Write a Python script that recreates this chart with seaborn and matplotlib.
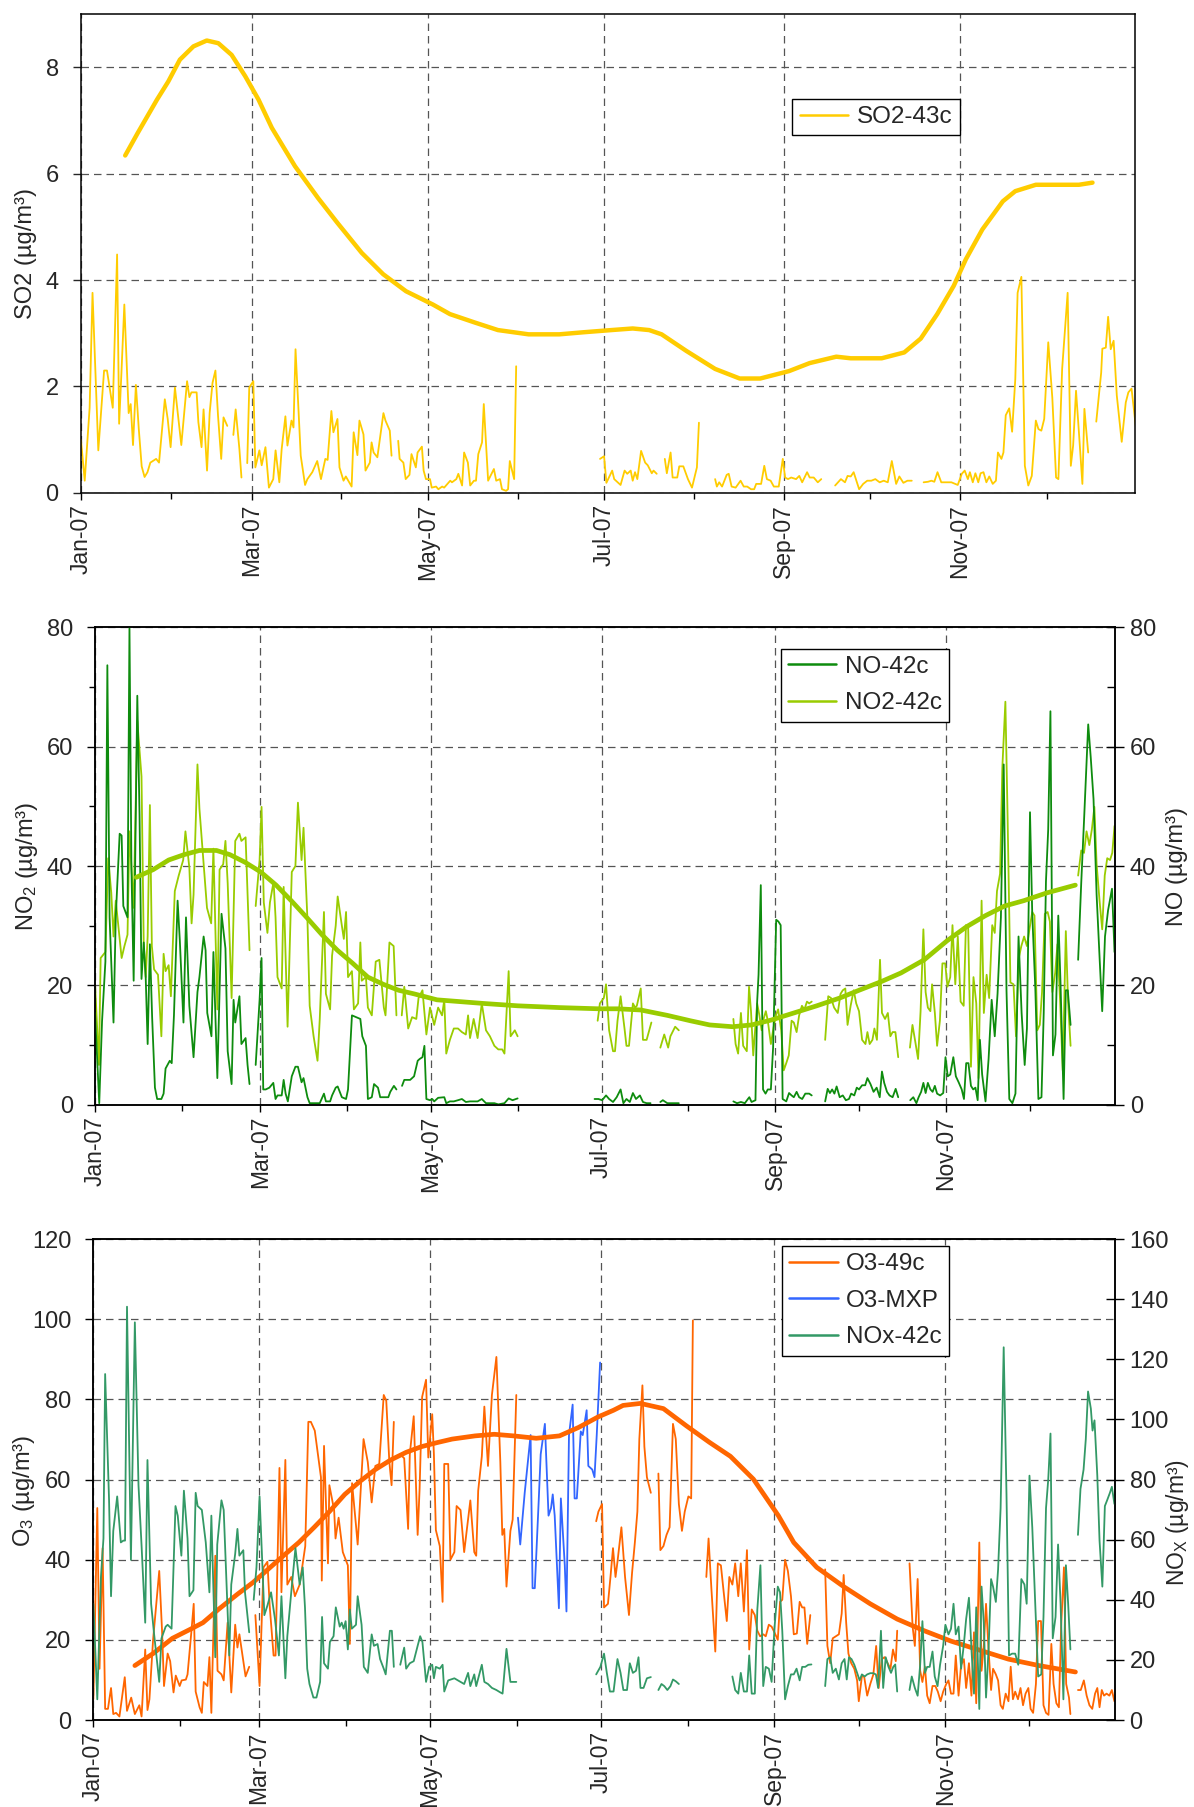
import pandas as pd
import matplotlib
matplotlib.use('Agg')
import matplotlib.pyplot as plt
import matplotlib.dates as mdates
from matplotlib.ticker import MultipleLocator
from matplotlib.lines import Line2D
import seaborn as sb

# values: (day of 2007, value), one sub-list per unbroken stretch
so2_daily = [
    [(0, 1.0), (1.3, 0.23), (3, 1.6), (4, 3.76), (6, 0.8), (8, 2.3), (9, 2.3), (11, 1.6), (12.5, 4.48), (13.2, 1.3),
     (14, 2.26), (15, 3.54), (16.5, 1.5), (17.2, 1.67), (18, 0.9), (19, 2.03), (20, 1.2), (21, 0.5), (22, 0.3), (23, 0.39),
     (24, 0.57), (26, 0.64), (27, 0.57), (29, 1.76), (30, 1.39), (31, 0.86), (32.5, 1.98), (34.7, 0.9), (36.7, 2.1), (37.5, 1.8),
     (38.2, 1.89), (40, 1.89), (40.6, 1.33), (41.7, 0.86), (42.4, 1.57), (43.6, 0.42), (44.5, 1.5), (45.5, 2.07), (46.5, 2.3),
     (47.4, 1.45), (48.5, 0.64), (49.3, 1.42), (50.6, 1.26)],
    [(52.7, 1.09), (53.5, 1.57), (54.8, 0.82), (55.5, 0.29)],
    [(57.5, 0.56), (58.2, 1.98), (59.6, 2.1), (60.3, 0.48), (61.7, 0.8), (62.5, 0.52), (63.8, 0.86), (65, 0.1), (66.5, 0.26),
     (67.3, 0.8), (68.6, 0.2), (69.4, 0.82), (70.7, 1.44), (71.4, 0.89), (72.8, 1.36), (73.5, 1.23), (74.2, 2.7), (76, 0.7),
     (77.5, 0.15), (78.3, 0.26), (80, 0.39), (81.7, 0.6), (83, 0.26), (84.5, 0.64), (85.3, 0.62), (86.6, 1.54), (87.3, 1.14),
     (88.7, 1.39), (89.4, 0.48), (90.8, 0.23), (91.6, 0.31), (93.6, 0.12), (94.3, 1.14), (95.6, 0.71), (96.3, 1.36), (97.7, 1.1),
     (98.4, 0.42), (99.9, 0.57), (100.5, 0.95), (101.2, 0.76), (102.5, 0.67), (104.6, 1.5), (105.3, 1.36), (106.8, 1.17),
     (107.4, 0.7)],
    [(109.7, 0.98), (110.2, 0.64), (111.5, 0.57), (112.3, 0.26), (113.6, 0.34), (114.3, 0.73), (115.8, 0.48), (116.4, 0.76),
     (117.9, 0.87), (118.5, 0.42), (119.3, 0.26), (120.7, 0.26), (121.3, 0.1), (122.8, 0.12), (123.6, 0.07), (124.9, 0.12),
     (125.6, 0.1), (127.7, 0.23), (128.3, 0.2), (129.8, 0.26), (130.5, 0.36), (131.8, 0.14), (132.5, 0.76), (133.8, 0.57),
     (134.6, 0.14), (135.9, 0.23), (136.6, 0.23), (137.4, 0.73), (138.7, 0.95), (139.3, 1.67), (140.8, 0.23), (142.8, 0.45),
     (143.6, 0.23), (144.9, 0.26), (145.6, 0.07), (147, 0.04), (147.7, 0.07), (148.3, 0.6), (149.8, 0.26), (150.5, 2.38)],
    [(179.5, 0.64), (180.9, 0.69), (181.7, 0.19), (183.7, 0.42), (184.4, 0.26), (186.6, 0.15), (188, 0.42), (188.9, 0.36),
     (190.1, 0.42), (190.8, 0.23), (191.6, 0.39), (192.4, 0.26), (193.7, 0.79), (195.1, 0.57), (196, 0.52), (197.4, 0.37),
     (198, 0.42), (199.1, 0.36)],
    [(201.9, 0.64), (202.6, 0.37), (203.9, 0.76), (204.6, 0.29), (206.2, 0.29), (206.9, 0.5), (208.3, 0.5), (209.9, 0.26),
     (211.3, 0.1), (213, 0.48), (213.7, 1.32)],
    [(219.3, 0.26), (219.9, 0.12), (220.7, 0.2), (221.7, 0.12), (223.3, 0.34), (224, 0.36), (225, 0.12), (226.4, 0.1),
     (228.1, 0.23), (229.2, 0.12), (230.4, 0.12), (231.7, 0.07), (232.8, 0.07), (233.5, 0.17), (235.2, 0.17), (236.3, 0.51),
     (237.2, 0.26), (238.5, 0.23), (239.6, 0.12), (241.3, 0.12), (242.7, 0.64), (243.5, 0.29), (244.5, 0.26), (245.6, 0.29),
     (247.3, 0.26), (248.4, 0.32), (249.4, 0.2), (251.1, 0.39), (252, 0.29), (253.4, 0.29), (254.8, 0.2), (256, 0.26)],
    [(260.8, 0.14), (262.8, 0.26), (264.2, 0.2), (265.1, 0.32), (266.2, 0.31), (267.2, 0.39), (269.1, 0.07), (270.5, 0.17),
     (271.9, 0.23), (273.3, 0.23), (274.7, 0.26), (276.2, 0.2), (277.6, 0.23), (279, 0.2), (280.4, 0.6), (281.9, 0.17),
     (283, 0.31), (284.4, 0.19), (285.8, 0.23), (287.3, 0.23)],
    [(291.4, 0.2), (292.9, 0.21), (294.1, 0.23), (295.1, 0.21), (296.2, 0.39), (297.5, 0.2), (298.9, 0.2), (301, 0.2),
     (303.2, 0.15), (304.6, 0.36), (305.6, 0.42), (306.7, 0.26), (307.4, 0.39), (308.4, 0.2), (309.3, 0.37), (310.3, 0.2),
     (311.1, 0.37), (312.1, 0.39), (313.1, 0.2), (314.1, 0.31), (315.3, 0.17), (316.4, 0.23), (317.1, 0.76), (318.3, 0.64),
     (319, 0.76), (319.8, 1.46), (321, 1.59), (322, 1.15), (323.1, 2.14), (323.9, 3.76), (325.2, 4.06), (326.4, 0.51),
     (327.6, 0.14), (328.8, 0.32), (330.2, 1.36), (331.1, 1.2), (332.1, 1.17), (333.1, 1.39), (334.5, 2.83), (335.9, 1.79),
     (337.2, 0.29), (338, 0.26), (339.3, 2.33), (341.2, 3.76), (342.3, 0.51), (343.1, 0.89), (344.1, 1.92), (345.1, 1.14),
     (346.3, 0.17), (347, 1.58), (348.3, 0.76)],
    [(351.1, 1.34), (352.8, 2.26), (353.2, 2.71), (354.4, 2.73), (355.2, 3.31), (356.1, 2.7), (357.1, 2.86), (358.2, 1.83),
     (359.9, 0.96), (361.3, 1.7), (362.2, 1.89), (363.3, 1.96), (364.9, 1.19)],
]
so2_smooth = [[(15.3, 6.34), (19.6, 6.76), (26.3, 7.39), (30.2, 7.73), (34.2, 8.14), (38.9, 8.39), (43.5, 8.5), (47.5, 8.45),
               (52.1, 8.23), (56.8, 7.83), (61.4, 7.39), (66, 6.86), (74, 6.14), (82, 5.54), (88.6, 5.08), (97.1, 4.51),
               (104.5, 4.11), (112.4, 3.79), (121.7, 3.54), (127.6, 3.36), (136.3, 3.2), (144.2, 3.06), (154.8, 2.98),
               (165.4, 2.98), (174, 3.02), (183.4, 3.06), (190.8, 3.09), (196.5, 3.06), (200.8, 2.98), (209.3, 2.67),
               (219.3, 2.33), (227.8, 2.15), (234.9, 2.15), (244.9, 2.29), (252, 2.44), (261.2, 2.56), (266.2, 2.53),
               (276.9, 2.53), (284.7, 2.64), (290.4, 2.9), (296.1, 3.36), (301.8, 3.89), (306, 4.39), (311.7, 4.95),
               (318.8, 5.48), (323.1, 5.67), (330.2, 5.79), (345.1, 5.79), (349.8, 5.83)]]

no2_daily = [
    [(0, 20.2), (1.4, 6.7), (2, 24.6), (3.7, 25.6), (4.7, 41.3), (5.8, 35.5), (6.6, 28.2), (7.4, 34.2), (9.5, 24.6),
     (10.5, 26.6), (11.6, 28.5), (12.3, 45.8), (13.8, 33), (15.1, 64.3), (16.6, 55), (17.4, 26.9), (18.1, 21.4), (18.8, 28.2),
     (19.6, 50.2), (20.3, 26.6), (21.1, 22.7), (22.5, 21.8), (23.7, 11.5), (24.5, 25.3), (25.2, 22.4), (26.3, 23.4),
     (27.1, 18.2), (28.5, 35.8), (29.9, 38.4), (31.5, 41), (32.3, 45.8), (33.7, 39.7), (34.5, 30.4), (35.2, 35.2), (36.6, 57),
     (37.3, 49.6), (38.6, 41.6), (40, 33), (41.5, 30.4), (42.3, 42.9), (43.7, 16), (44.5, 39.4), (45.8, 40.3), (46.6, 44.2),
     (47.4, 37.1), (48.8, 17.9), (50.1, 44.2), (51.6, 45.4), (52.3, 44.2), (53.8, 44.8), (55.2, 25.9)],
    [(57.4, 33.3), (58.8, 41), (59.5, 49.9), (60.3, 33.9), (61.6, 28.8), (62.5, 33.9), (63.8, 37.4), (64.5, 31.4),
     (65.2, 21.4), (66.7, 19.5), (67.4, 36.5), (68.8, 13.1), (70.3, 39), (71.6, 40), (72.5, 50.6), (73.8, 41), (74.5, 46.4),
     (75.9, 31), (76.7, 16.6), (78.1, 11.5), (79.5, 7.4), (80.3, 14.4), (81.8, 32.3), (82.5, 18.6), (84, 16), (84.7, 25),
     (86, 30), (86.7, 34.9), (88.2, 30), (88.9, 27.8), (89.7, 32.3), (90.4, 21.4), (91.8, 22.4), (92.5, 16), (94, 17),
     (94.8, 27.2), (95.3, 20.8), (96.8, 21.4), (97.5, 16.3), (98.9, 15), (100.3, 24), (101.6, 24.3), (103.2, 16.3),
     (103.8, 15), (105.2, 27.2), (106.7, 26.6), (107.7, 15)],
    [(109.6, 15), (110.5, 19.8), (111.9, 12.8), (113.3, 14.7), (114.8, 14.4), (115.6, 17.9), (117, 19.2), (118.4, 11.8),
     (119.7, 16.3), (121.2, 13.4), (122.6, 16.3), (124, 15), (124.8, 17.6), (125.5, 8.6), (126.8, 10.9), (128.2, 12.8),
     (129.7, 12.8), (131.1, 12.2), (132.5, 11.8), (133.3, 15), (134, 11.2), (135.3, 14.4), (136.7, 11.2), (138.2, 17),
     (139.7, 12.5), (141.1, 11.5), (142.7, 9.9), (144.1, 9.3), (145.5, 9.3), (146.3, 8.6), (147.8, 22.4), (148.5, 11.5),
     (150, 12.5), (151, 11.5)],
    [(179.6, 14.1), (180.4, 17), (181.8, 17.9), (182.6, 20.2), (183.7, 12.5), (185.1, 9), (185.8, 9), (186.7, 14.1),
     (187.8, 18.2), (189.2, 12.8), (189.9, 9.9), (190.8, 9.9), (192.2, 17), (193, 16.3), (193.6, 16.6), (195, 19.5),
     (195.8, 10.9), (197.1, 10.9), (198.8, 13.8)],
    [(202, 9.6), (203.4, 11.8), (204.8, 9.6), (205.6, 11.5), (207.3, 13.1), (208.6, 12.5)],
    [(228.1, 14.4), (228.9, 10.2), (229.8, 8.6), (230.8, 15.4), (231.6, 9.9), (232.9, 9), (233.7, 19.8), (234.4, 15.7),
     (235.2, 8.3), (236, 13.4), (236.6, 17), (237.4, 15), (238.2, 12.5), (238.9, 14.4), (239.7, 15.7), (240.4, 14.1),
     (241.5, 10.2), (242.4, 12.8), (243.3, 15), (244.1, 16), (245.2, 12.5), (246.1, 5.8), (247, 7), (247.9, 8.3),
     (248.9, 14.1), (249.7, 13.8), (250.7, 12.2), (251.6, 15), (252.6, 16.6), (253.5, 16), (254.4, 17.3), (255.2, 17),
     (256.1, 17.3)],
    [(260.9, 10.9), (262, 18.2), (263, 17.9), (264.1, 16.3), (265.4, 15.4), (266.4, 18.6), (267.2, 19.2), (268.1, 19.5),
     (268.9, 13.4), (270, 16.6), (271.1, 19.2), (272, 17), (273, 15.7), (274.1, 10.9), (275.3, 10.2), (276, 12.2),
     (276.8, 10.2), (277.8, 10.9), (278.5, 12.8), (279.4, 10.9), (280.5, 24.3), (281.2, 15.4), (282.3, 14.4), (283.3, 15.4),
     (284.2, 11.5), (285, 12.2), (286, 12.2), (287, 8)],
    [(291.2, 9.6), (292.1, 13.4), (293.1, 10.6), (294.1, 7.7), (295, 15.7), (296, 29.4), (296.8, 18.9), (297.6, 16.3),
     (298.5, 15.7), (299.1, 20.2), (300.1, 15.4), (300.9, 9.9), (301.9, 14.1), (302.8, 23.7), (303.8, 23.7), (304.6, 19.8),
     (305.6, 21.4), (306.4, 30.1), (307.4, 20.2), (308.3, 28.2), (309.3, 17.3), (310.4, 16.6), (311.2, 30.1), (312, 29.8),
     (313, 6.4), (313.9, 21.4), (314.9, 17), (315.7, 4.5), (316.8, 34.2), (317.6, 15.4), (318.6, 21.8), (319.5, 17.9),
     (320.6, 30.1), (321.5, 28.8), (322.3, 35.8), (323.4, 38.7), (324.2, 56.3), (325.3, 67.5), (326.1, 48), (327.1, 20.5),
     (328.2, 20.2), (329.1, 11.5), (330.1, 24.6), (331, 26.6), (332, 28.2), (333, 26.6), (333.9, 29.4), (334.9, 32.3),
     (335.7, 31.7), (336.7, 12.5), (337.6, 13.4), (338.4, 18.9), (339.4, 32), (340.4, 32.3), (341.2, 30.7), (342.1, 18.9),
     (343.1, 22.1), (343.9, 26.9), (344.9, 17), (345.8, 5.8), (346.9, 29.1), (347.7, 17.3), (348.6, 9.9)],
    [(351.3, 38.4), (352.4, 42.6), (353.4, 42.2), (354.3, 45.8), (355.3, 43.5), (356.2, 46.1), (357.1, 49.9), (357.9, 40.3),
     (359, 33.9), (359.9, 29.4), (360.8, 38.4), (361.7, 41.3), (362.7, 41), (363.5, 42.2), (364.3, 46.7)],
]
no_daily = [
    [(0, 15.4), (1.5, 0.3), (2.5, 14), (3.7, 24), (4.4, 73.6), (5.2, 31.4), (6.6, 13.8), (7.4, 31.4), (8.8, 45.4),
     (9.5, 45.1), (10.1, 33.3), (11.6, 31.4), (12.3, 80), (13, 39.7), (13.8, 20.8), (15.1, 68.5), (15.9, 48.6), (16.6, 21.1),
     (17.4, 27.2), (18.1, 21.4), (18.8, 10.2), (19.6, 26.9), (20.4, 14.7), (21.4, 2.9), (22.2, 1), (23.7, 1), (24.5, 1.9),
     (25.2, 6.1), (26.7, 7.4), (27.4, 7), (28.2, 15), (29.5, 34.2), (30.3, 27.5), (31.6, 13.8), (32.5, 31.4), (33.7, 16.6),
     (35.2, 8), (36.6, 18.9), (37.3, 21.4), (38.8, 28.2), (39.5, 25.9), (40.1, 15.4), (41.6, 11.5), (42.3, 25.6), (43.7, 4.5),
     (45.2, 32), (46.6, 26.2), (47.4, 9), (48.8, 3.5), (49.5, 17.6), (50.1, 13.8), (51.6, 18.2), (52.3, 10.2), (53.8, 11.2),
     (54.5, 6.7), (55.2, 3.5)],
    [(57.4, 6.7), (58.8, 17.6), (59.5, 24.6), (60.1, 2.6), (61, 2.6), (62.3, 2.9), (63.7, 3.7), (64.5, 1), (65.2, 1.6),
     (66.7, 1.6), (67.4, 4.2), (68.1, 1.9), (68.9, 0.6), (70.3, 4.8), (71.6, 6.4), (72.5, 6.4), (73.8, 3.8), (74.5, 4.5),
     (75.9, 1.3), (76.7, 0.3), (78.1, 0.3), (80.3, 0.3), (81.8, 1.9), (82.5, 0.6), (84, 0.6), (84.7, 1.6), (86, 2.9),
     (86.7, 3.1), (88.2, 1.3), (89.7, 1), (90.4, 2.6), (91.8, 15), (93.3, 14.7), (94.8, 14.4), (95.5, 11.5), (96.8, 9.9),
     (97.5, 1), (98.9, 1.3), (99.7, 3.5), (101.1, 2.9), (101.9, 1.3), (103.3, 1.3), (104.8, 1.3), (105.5, 2.2), (106.8, 3.2),
     (107.7, 2.6)],
    [(109.7, 3.2), (110.5, 4.2), (112.6, 4.2), (114, 4.8), (115.3, 7.4), (116, 7.7), (117, 8), (117.7, 9.9), (118.4, 1),
     (119.7, 0.8), (120.5, 1), (121.2, 0.6), (122.6, 1.2), (124.8, 1.3), (125.5, 0.3), (126.8, 0.6), (128.2, 0.6),
     (129.7, 0.8), (131.1, 1), (132.5, 0.5), (134, 0.6), (135.3, 0.6), (136.7, 0.6), (138.2, 1), (139.7, 0.3), (141.1, 0.3),
     (142.7, 0.3), (144.1, 0.1), (146.3, 0.3), (147.8, 1.1), (149.2, 0.8), (151, 1.1)],
    [(178.5, 1), (179.9, 1), (181.2, 0.8), (182.6, 1.6), (183.7, 1), (185.1, 0.5), (186.4, 1.3), (187.8, 2.6), (188.8, 0.3),
     (189.9, 1), (191.1, 0.5), (192.2, 2), (193.3, 1), (194.7, 1.6), (195.8, 0.5), (197.1, 0.3), (198.5, 0.3)],
    [(202, 0.5), (202.9, 0.8), (204.5, 0.3), (208.6, 0.3)],
    [(228.1, 0.6), (229.4, 0.3), (230.8, 0.5), (232.2, 0.3), (233.3, 1), (233.8, 1.3), (234.6, 0.5), (236, 0.8),
     (236.6, 17.3), (237.1, 21.8), (237.9, 36.8), (238.7, 2.6), (239.6, 1.9), (240.4, 2.6), (241.5, 2.6), (242.3, 9.6),
     (243.4, 31), (244.2, 30.7), (245, 30.1), (245.7, 1), (247, 0.6), (248, 2), (248.9, 1.6), (249.7, 1.3), (250.7, 2.2),
     (251.6, 1.3), (252.7, 1), (253.8, 1.9), (255.2, 1.9), (256.1, 1.6)],
    [(260.9, 0.6), (261.8, 2.7), (262.6, 2), (263.4, 2.6), (264.2, 1.9), (265, 3.1), (266.1, 1.3), (267.2, 1.6),
     (268.3, 0.8), (269.4, 1), (270.2, 1.9), (271.3, 1.6), (272.2, 2.9), (273, 2.6), (274.1, 3.3), (275.2, 3.3), (276, 4.5),
     (277.1, 3.5), (278.2, 2.2), (279.3, 2.9), (280.4, 1.3), (281.2, 5.6), (282, 3.7), (283, 2.2), (283.9, 1.6), (285, 1.3),
     (286.1, 2.7), (287, 1.3)],
    [(291.3, 0.8), (292.4, 1.3), (293.5, 0.3), (294.3, 1.3), (295.2, 2.2), (296, 3.7), (296.8, 2), (297.6, 3.7),
     (298.5, 2.6), (299.3, 2.2), (300.1, 3.2), (300.9, 1.9), (302, 1.6), (303.1, 2), (303.9, 8), (304.7, 4.8), (305.6, 5.1),
     (306.7, 8), (307.6, 4.8), (308.6, 3.8), (309.7, 2.6), (310.5, 1), (311.3, 7), (312.1, 7), (313, 3.2), (313.8, 2.6),
     (314.6, 2.9), (315.4, 0.8), (316.2, 10.9), (317, 5.1), (318.2, 0.6), (319.3, 7.7), (320.4, 17.6), (321.5, 11.5),
     (322.5, 18.6), (323.7, 31.4), (324.7, 57), (325.7, 19.2), (326.7, 1), (327.8, 0.3), (328.9, 1.9), (330, 28.2),
     (331.1, 15.4), (332.2, 6.7), (333, 12.8), (334.1, 49), (334.9, 32), (336, 19.5), (337.1, 1), (338.2, 1.3), (339, 15.4),
     (339.8, 37.4), (340.6, 46.1), (341.4, 65.9), (342.3, 8.3), (343.2, 11.8), (344.2, 31.7), (345, 20.5), (346.1, 1),
     (346.9, 19.2), (347.6, 19.2), (348.6, 13.4)],
    [(351.3, 24.3), (352.4, 37.1), (353.5, 48.6), (354.9, 63.7), (355.8, 58.2), (356.8, 51.2), (357.9, 35.2), (359, 24.3),
     (359.9, 15.7), (360.9, 28.2), (362, 32.6), (363.4, 36.2), (364.3, 25.6)],
]
no2_smooth = [[(14.7, 38.1), (20.8, 39.4), (26.3, 41), (31.8, 41.9), (37.3, 42.6), (43.4, 42.6), (48.2, 41.9), (53.7, 40.6),
               (59.2, 39), (64.7, 36.8), (70.1, 34.2), (75.6, 31.4), (81.1, 28.5), (86.6, 25.9), (92.1, 23.7), (97.5, 21.4),
               (103, 20.2), (108.5, 19.2), (114, 18.6), (122.2, 17.6), (130.4, 17.3), (138.6, 17), (151, 16.6), (166, 16.3),
               (180, 16.1), (186.7, 16.1), (195, 15.9), (204.5, 15), (212.7, 14.1), (219.6, 13.4), (227.8, 13.1),
               (234.6, 13.4), (241.5, 14.2), (249.7, 15.4), (257.9, 16.6), (266.1, 17.9), (273, 19.2), (281.2, 20.7),
               (288, 22.1), (296.3, 24.3), (304.5, 27.5), (311.3, 29.8), (318.2, 31.7), (325, 33.3), (331.9, 34.2),
               (340.1, 35.5), (345.6, 36.2), (350.3, 36.8)]]

o3_daily = [
    [(0, 5.2), (1.4, 52.9), (2.2, 12.8), (3.3, 42.9), (4.2, 2.8), (5.2, 2.8), (6.3, 8), (7.1, 1.5), (8.1, 1.8), (9.3, 0.9),
     (11.2, 10.7), (12, 2.3), (13.5, 5.6), (14.8, 1.5), (16.4, 3.7), (17.2, 0.9), (18.5, 17.6), (19.3, 2.5), (20, 5.2),
     (21.3, 20), (23.5, 37.2), (24.5, 22.3), (25.2, 8.5), (26.5, 16.6), (27.4, 14.7), (28.6, 6.9), (29.4, 11.1), (30.8, 8.5),
     (31.5, 9.9), (33, 10.1), (33.6, 11.4), (35, 22.3), (35.8, 29), (36.5, 7.1), (37.9, 3.2), (38.7, 1.8), (39.4, 9.5),
     (40.7, 8.5), (41.4, 15.7), (42.1, 1.8), (43.5, 41), (44.3, 12.3), (45.7, 11.4), (46.5, 9.9), (47.9, 24.3), (49.2, 6.9),
     (50.6, 23.8), (51.4, 18.1), (52.1, 21.4), (53.4, 15.2), (54.3, 10.9), (55.6, 13.3)],
    [(57.8, 26.2), (59.3, 8.5), (60.7, 38.1), (62.1, 39.5), (62.9, 28.6), (64.3, 16.1), (65, 16.1), (66.4, 62.9),
     (67.1, 31.9), (68.5, 64.9), (69.2, 33.8), (70.6, 35.7), (71.9, 30.9), (73.6, 33.8), (75.6, 43.4), (76.7, 74.4),
     (77.6, 74.4), (79, 72.2), (81.2, 60.6), (81.5, 34.8), (82.3, 68.4), (83.7, 39.1), (84.2, 58.6), (85.9, 52.4),
     (86.4, 45.3), (87.5, 50.5), (89, 41.9), (90.8, 38.6), (91.5, 19), (92.3, 59.1), (93.7, 48.6), (94.3, 43.8), (96.4, 70.1),
     (97.9, 64.4), (99.3, 54.3), (100.6, 63.4), (102, 63.9), (103.6, 81.1), (104.5, 79.7), (105.6, 64.4), (106.4, 58.6),
     (107.2, 74.4)],
    [(109.5, 66.3), (110.9, 65.3), (112.3, 47.7), (112.9, 66.3), (114.3, 75.8), (115.7, 46.2), (116.4, 57.7), (117.3, 80.6),
     (118.7, 84.9), (119.5, 65.5), (120.9, 76.3), (121.5, 66.3), (122.2, 47.4), (123.6, 43.4), (124.6, 29.5), (125.2, 63.9),
     (126.6, 63.9), (127.4, 40), (128.8, 41.9), (129.6, 53.4), (131, 52.4), (132.3, 41.9), (133.2, 47.2), (134.5, 54.8),
     (135.9, 41.9), (136.6, 41), (137.3, 57.2), (138.6, 65.8), (139.5, 78.2), (140.8, 63.4), (142.2, 81.1), (143.8, 90.6),
     (145.2, 64.4), (145.9, 46.2), (146.6, 47.7), (147.4, 33.3), (148.8, 47.2), (149.6, 50), (150.9, 81.1)],
    [(179.4, 49.6), (180.2, 52), (181.5, 53.9), (182.2, 28.1), (183.6, 29), (184.5, 35.7), (185.4, 42.9), (186.3, 35.7),
     (187, 39.5), (188.4, 48.1), (189.7, 35.7), (191.1, 26.2), (192.2, 36.7), (193.2, 44.3), (194.1, 52), (194.8, 70.1),
     (195.9, 83.5), (196.6, 68.2), (197.5, 60.6), (198.9, 56.7)],
    [(201.6, 61.5), (202.3, 42.4), (203.4, 43.4), (204.5, 46.2), (205.6, 48.1), (206.8, 73.9), (207.8, 70.1), (208.9, 53.9),
     (210, 47.2), (211, 52), (212.3, 55.8), (213.3, 55.3), (213.9, 99.7)],
    [(218.7, 35.7), (219.5, 45.3), (220.5, 32.9), (221.9, 17.1), (222.8, 39.1), (223.9, 38.6), (224.9, 31.9), (226, 24.7),
     (226.9, 35.7), (228, 33.8), (229, 39.1), (230.1, 30.9), (231, 39.1), (232.1, 27.1), (233.2, 42.4), (234, 17.6),
     (234.9, 27.6), (236, 26.2), (236.9, 22.3), (237.9, 20.9), (239, 21.4), (239.9, 20.9), (241, 23.8), (242, 23.3),
     (243, 21.9), (244.2, 20), (245, 29.5), (245.8, 30), (246.8, 40), (247.8, 37.2), (248.9, 30.9), (249.9, 21.4),
     (251, 21.6), (252, 29.5), (252.9, 28.1), (253.7, 28.1), (254.7, 19), (255.8, 26.2)],
    [(261.1, 37.6), (261.9, 18.5), (262.9, 14.2), (263.8, 20.4), (264.9, 20.9), (266, 21.4), (267, 26.6), (267.7, 36.2),
     (268.6, 24.3), (269.4, 16.6), (270.4, 14.2), (271.5, 12.8), (272.5, 9.9), (273.1, 4.7), (274.2, 10.9), (275, 10.9),
     (276.1, 6.1), (277.2, 9), (278.3, 11.4), (279.3, 18.5), (280.2, 8), (281.3, 15.2), (282.3, 15.7), (283.4, 14.2),
     (284.4, 12.8), (285.3, 17.6), (286.3, 14.7), (286.8, 22.3)],
    [(291.2, 39.1), (292.3, 23.3), (293.1, 18.5), (294.1, 35.2), (295, 12.3), (295.8, 9.5), (296.7, 13.3), (297.5, 6.1),
     (298.4, 4.2), (299.4, 8.5), (300.4, 8.5), (301.3, 7.1), (302.3, 4.7), (303.2, 7.1), (304.3, 9), (305.1, 9.9), (306, 6.6),
     (306.9, 6.6), (307.7, 16.1), (308.7, 6.1), (309.6, 13.8), (310.6, 15.2), (311.4, 8), (312.4, 14.2), (313.3, 6.1),
     (314.2, 21.9), (315, 4.2), (316.1, 44.3), (316.9, 12.3), (317.7, 18.5), (318.5, 29), (319.4, 17.6), (320.3, 7.5),
     (321, 12.8), (322, 11.4), (322.8, 9.9), (323.7, 3.7), (324.5, 2.8), (325.5, 6.6), (326.5, 4.7), (327.3, 13.3),
     (328.1, 5.2), (328.9, 7.1), (329.9, 5.2), (330.8, 8), (331.7, 3.7), (332.6, 6.6), (333.6, 8), (334.4, 2.8), (335.3, 1.8),
     (336.3, 9), (337.1, 24.7), (338.1, 24.7), (339, 3.7), (339.9, 1.8), (340.8, 1.3), (341.8, 19), (342.6, 9), (343.6, 4.2),
     (344.5, 3.2), (345.3, 23.3), (346.3, 38.1), (347.1, 9), (348.1, 5.6), (348.6, 1.5)],
    [(351.3, 7.5), (352.3, 7.5), (353.4, 9.9), (354.4, 6.1), (355.4, 3.7), (356.4, 2.8), (357.4, 6.6), (358.2, 8), (359, 3.2),
     (359.8, 7.5), (360.6, 6.1), (361.5, 6.6), (362.5, 6.1), (363.4, 7.5), (364.3, 4.7)],
]
o3_mxp = [[(151.5, 50.5), (152.3, 43.8), (153.9, 56.7), (154.6, 61.5), (156, 71.1), (156.7, 32.9), (157.5, 32.9),
           (158.9, 54.8), (159.6, 66.3), (161.1, 73.9), (162.4, 51), (163.3, 52.9), (163.9, 56.3), (164.6, 51), (166.1, 27.9),
           (166.8, 55.3), (168.2, 38.6), (168.8, 27.1), (169.7, 71.1), (171, 78.7), (171.7, 55.3), (172.5, 55.3), (173.9, 72),
           (174.6, 71.1), (176, 77.3), (176.6, 63.4), (178, 62.5), (178.8, 60.6), (179.6, 71.1), (180.8, 89.2)]]
nox_daily = [
    [(0, 38.7), (1.4, 6.9), (2.7, 47.6), (3.6, 60.4), (4.2, 115.1), (5.6, 73.1), (6.3, 41.2), (7.1, 62.9), (8.5, 74.4),
     (9.8, 59.1), (10.7, 59.7), (11.3, 59.7), (12, 137.5), (13.4, 53.3), (14.8, 132.3), (16.1, 78.1), (17.2, 57.9),
     (18.5, 32.4), (19.3, 86.5), (20.6, 38.7), (21.6, 29.2), (23.5, 12.7), (24.3, 27.2), (25.8, 31.1), (26.5, 31.7),
     (27.9, 30.4), (29.3, 71.2), (30.1, 68), (31.4, 54.7), (32.3, 76.3), (33.6, 60.4), (34.3, 41.2), (35.7, 43.2),
     (36.5, 75.6), (37.2, 71.2), (38.7, 69.9), (40.1, 59.1), (41.4, 42.5), (42.1, 68), (43.5, 20.9), (44.2, 58.4),
     (45.7, 73.1), (46.5, 69.9), (48.5, 21.5), (49.2, 45.1), (50.6, 55.3), (51.4, 63.6), (52.1, 54.7), (53.5, 56.5),
     (54.1, 42.5), (55.6, 29.2)],
    [(57.2, 40), (58.2, 50.8), (59.3, 74.4), (60.3, 51.5), (61, 34.9), (62.1, 38.1), (63.4, 42.5), (64.8, 33.6), (66.2, 21.5),
     (67.1, 41.2), (68.5, 13.9), (69.2, 27.9), (70.6, 42.5), (72.1, 57.2), (73.6, 45.1), (74.7, 50.8), (75.5, 37.5),
     (76.3, 17.1), (77.1, 12), (78.5, 7.5), (79.6, 7.5), (80.9, 12.7), (81.6, 34.3), (82.3, 18.9), (83.7, 17.1), (84.4, 26),
     (85.7, 27.9), (86.5, 37.5), (87.9, 31.1), (88.6, 32.4), (89.3, 30.4), (90, 32.9), (90.8, 23.5), (91.5, 36.8),
     (92.2, 30.4), (93.7, 31.7), (94.3, 41.2), (95.7, 31.7), (96.5, 17.7), (97.9, 15.7), (99.3, 28.5), (100.1, 24.7),
     (101.4, 25.3), (102.3, 20.3), (103.6, 17.1), (104.3, 15.2), (105.8, 29.7), (106.5, 29.7), (107.2, 17.7)],
    [(109.5, 18.4), (110.9, 24.1), (111.6, 17.1), (112.9, 18.9), (114.3, 19.6), (115.7, 24.7), (116.6, 27.9), (117.4, 26),
     (118.7, 12.7), (119.8, 17.7), (120.9, 18.4), (121.5, 13.9), (122.2, 17.7), (123.6, 17.1), (124.6, 18.4), (125.2, 9.5),
     (126.6, 13.2), (128.8, 13.9), (131, 12.7), (132.3, 12), (133.7, 15.7), (134.5, 11.3), (135.9, 15.2), (136.6, 11.3),
     (138.6, 18.4), (139.5, 12.7), (140.8, 12), (142.2, 10.7), (143.8, 10), (145.2, 9.2), (146, 8.8), (147.4, 23.7),
     (148.8, 12.7), (150.9, 12.7)],
    [(179.4, 15.2), (180.9, 17.7), (182.2, 22.1), (183.2, 15.7), (184.3, 9.5), (185.6, 9.5), (187, 20.3), (188.1, 15.7),
     (189.1, 10), (190.4, 10), (191.4, 18.9), (192.5, 15.7), (193.6, 16.4), (194.5, 20.9), (195.2, 10.7), (196.3, 10.7),
     (197.5, 13.9), (198.9, 14.3)],
    [(201.6, 10), (202.7, 12), (203.7, 11.3), (204.8, 10), (205.9, 11.3), (206.8, 13.5), (207.8, 12.9), (208.9, 12)],
    [(228, 14.5), (229, 10), (230.1, 8.8), (231, 15.7), (232.1, 9.5), (233.2, 9.5), (234, 21.5), (234.9, 8.8), (236, 8.8),
     (236.9, 36.8), (238, 51.5), (239, 11.3), (239.9, 17.7), (241, 17.1), (242, 12.7), (243, 30.4), (244.2, 44.4),
     (245, 42.5), (245.8, 29.7), (246.8, 6.9), (247.8, 11.3), (248.9, 15.2), (249.9, 15.2), (250.9, 17.1), (252, 13.2),
     (252.9, 17.7), (254, 17.7), (255.1, 18.4), (256.2, 18.5)],
    [(261.1, 11.3), (261.9, 20.3), (262.9, 20.9), (263.8, 15.7), (264.9, 17.1), (266, 13.5), (267, 18.9), (268, 20.3),
     (268.8, 13.5), (269.6, 20.9), (270.5, 20.3), (271.5, 18.4), (272.5, 15.7), (273.4, 13.2), (274.2, 15.2), (275.2, 14.5),
     (276.1, 15.2), (277.2, 15.6), (278.2, 15.6), (279.2, 15.2), (280, 10.7), (281, 29.7), (281.8, 10.7), (282.7, 20.9),
     (283.7, 17.7), (284.6, 15.7), (285.4, 17.7), (286.1, 18.5), (286.8, 9.5)],
    [(291.2, 10), (292, 14.5), (293.1, 10.7), (294.1, 8.1), (295, 18.4), (295.8, 32.9), (296.7, 15.7), (297.5, 17.7),
     (298.4, 17.7), (299.4, 22.8), (300.2, 14.5), (301.2, 11.3), (302.1, 18.4), (303.2, 24.7), (304, 31.7), (305.1, 28.5),
     (306, 30.4), (306.9, 38.7), (307.7, 28.5), (308.7, 31.1), (309.6, 17.1), (310.6, 25.3), (311.4, 33.6), (312.4, 40.7),
     (313.3, 23.5), (314.2, 8.8), (315, 37.5), (316.1, 3.7), (316.9, 44.4), (317.7, 32.4), (318.5, 7.5), (319.4, 23.5),
     (320.3, 46.9), (321, 44.4), (322, 39.3), (322.8, 50.1), (323.7, 70.5), (324.8, 124), (325.8, 75.1), (326.7, 21.5),
     (327.8, 22.1), (328.9, 22.1), (330, 18.4), (331.1, 46.9), (332.2, 45.1), (333, 38.7), (334, 81.3), (335, 64.1),
     (336, 40), (337.1, 14.5), (338.2, 15.2), (339, 34.3), (339.9, 70.5), (340.7, 80.1), (341.5, 95.3), (342.3, 27.2),
     (343.3, 34.3), (344.2, 58.4), (345.1, 38.7), (346.1, 6.9), (347, 51.5), (347.8, 38.7), (348.6, 23.5)],
    [(351.3, 61.6), (352.2, 76.9), (353.3, 83.3), (354.1, 93.5), (354.9, 109.3), (355.9, 103.6), (356.5, 96.3),
     (357.2, 99.7), (358.2, 81.3), (359, 59.7), (360, 44.4), (360.9, 71.2), (361.7, 73.1), (362.7, 75.6), (363.4, 77.6),
     (364.3, 71.9)],
]
o3_smooth = [[(14.8, 13.6), (21.3, 16.6), (28.2, 20.4), (35, 22.8), (39.1, 24.3), (44.6, 27.6), (51.4, 31.4), (56.9, 34.3),
              (62.3, 37.6), (67.8, 41), (73.3, 44.3), (78.8, 48.1), (84.2, 52), (89.7, 56.3), (95.2, 59.6), (100.6, 62.5),
              (106.1, 64.9), (111.6, 66.8), (117, 68.2), (122.5, 69.2), (128, 70.1), (136.2, 70.9), (143, 71.3),
              (149.9, 70.9), (158, 70.3), (166.3, 70.9), (173.1, 73), (180, 75.6), (185.6, 77.3), (189, 78.5), (195.2, 79),
              (203.4, 77.7), (211.6, 73.4), (219.8, 69.3), (227.3, 65.8), (235.5, 60.1), (244.4, 51), (249.9, 44.3),
              (258.1, 38.1), (267.7, 33.3), (277.2, 29), (286.8, 25.2), (296.4, 22.3), (306, 19.7), (315.5, 17.6),
              (326.5, 15.2), (337.4, 13.6), (350.4, 12)]]

month_ticks = [1, 3, 5, 7, 9, 11]

sb.set_style('ticks')
plt.rcParams['font.family'] = ['Liberation Sans', 'DejaVu Sans']
plt.rcParams['mathtext.fontset'] = 'custom'
plt.rcParams['mathtext.rm'] = 'Liberation Sans'
plt.rcParams['mathtext.default'] = 'regular'

start = pd.Timestamp('2007-01-01')
TICK = 17
LABEL = 17


def to_frame(segments):
    rows = []
    for k, seg in enumerate(segments):
        for d, v in seg:
            rows.append((start + pd.Timedelta(days=d), v, k))
    return pd.DataFrame(rows, columns=['date', 'value', 'seg'])


def draw(ax, segments, color, lw):
    df = to_frame(segments)
    sb.lineplot(data=df, x='date', y='value', units='seg', estimator=None, sort=False,
                color=color, lw=lw, ax=ax, legend=False)


def style_left(ax, ymax, ystep, minor=None):
    ax.set_ylim(0, ymax)
    ax.set_yticks(range(0, ymax + 1, ystep))
    if minor:
        ax.yaxis.set_minor_locator(MultipleLocator(minor))
    ax.tick_params(axis='y', which='major', direction='out', length=6, width=1, labelsize=TICK, pad=10, color='black')
    ax.tick_params(axis='y', which='minor', direction='out', length=4, width=1, color='black')
    ax.set_xlabel('')


def style_right(ax, ymax, ystep, minor=None):
    ax.set_ylim(0, ymax)
    ax.set_yticks(range(0, ymax + 1, ystep))
    if minor:
        ax.yaxis.set_minor_locator(MultipleLocator(minor))
    ax.tick_params(axis='y', which='major', direction='inout', length=13, width=1, labelsize=TICK, pad=4, color='black')
    ax.tick_params(axis='y', which='minor', direction='in', length=6, width=1, color='black')
    ax.grid(False)
    for s in ax.spines.values():
        s.set_color('black')
        s.set_linewidth(1.1)


def style_x(ax):
    ax.set_xlim(start, pd.Timestamp('2007-12-31 12:00'))
    ax.xaxis.set_major_locator(mdates.MonthLocator(bymonth=month_ticks))
    ax.xaxis.set_minor_locator(mdates.MonthLocator())
    ax.xaxis.set_major_formatter(mdates.DateFormatter('%b-%y'))
    ax.tick_params(axis='x', which='major', direction='out', length=5, width=1, labelsize=16.5,
                   labelrotation=90, pad=3, color='black')
    ax.tick_params(axis='x', which='minor', direction='out', length=4, width=1, color='black')
    ax.grid(True, which='major', axis='both', ls=(0, (6, 4)), color='#555555', lw=0.9)
    ax.set_axisbelow(True)
    ax.set_xlabel('')
    for s in ax.spines.values():
        s.set_color('black')
        s.set_linewidth(1.1)


def box(ax, names, colors, x, y):
    handles = [Line2D([], [], color=c, lw=1.8) for c in colors]
    leg = ax.legend(handles, names, loc='upper left', bbox_to_anchor=(x, y), frameon=True, fancybox=False,
                    edgecolor='black', facecolor='white', framealpha=1, fontsize=17.5, handlelength=2.0,
                    handletextpad=0.35, borderpad=0.3, labelspacing=0.6, borderaxespad=0)
    leg.get_frame().set_linewidth(1.0)


fig = plt.figure(figsize=(11.94, 18.07), dpi=100)

# SO2 panel
ax1 = fig.add_axes([0.0678, 0.7272, 0.8828, 0.2651])
draw(ax1, so2_daily, '#FFCC00', 1.3)
draw(ax1, so2_smooth, '#FFCC00', 3.2)
style_x(ax1)
ax1.set_ylim(0, 9)
ax1.set_yticks(range(0, 9, 2))
ax1.tick_params(axis='y', which='major', direction='out', length=6, width=1, labelsize=TICK, pad=10)
ax1.set_ylabel('SO2 (µg/m³)', fontsize=LABEL)
ax1.yaxis.set_label_coords(-0.042, 0.5)
ax1.spines['right'].set_color('#8c8c8c')
box(ax1, ['SO2-43c'], ['#FFCC00'], 0.675, 0.823)

# NO / NO2 panel
ax2 = fig.add_axes([0.0796, 0.3885, 0.8543, 0.2645])
tw2 = ax2.twinx()
draw(ax2, no2_daily, '#99CC00', 1.3)
draw(tw2, no_daily, '#0E8C0E', 1.3)
draw(tw2, no2_smooth, '#99CC00', 3.4)
style_x(ax2)
style_left(ax2, 80, 20, 10)
style_right(tw2, 80, 20, 10)
ax2.set_ylabel('NO$_2$ (µg/m³)', fontsize=LABEL)
ax2.yaxis.set_label_coords(-0.054, 0.5)
tw2.set_ylabel('NO (µg/m³)', fontsize=LABEL)
tw2.yaxis.set_label_coords(1.05, 0.5)
box(tw2, ['NO-42c', 'NO2-42c'], ['#0E8C0E', '#99CC00'], 0.672, 0.955)

# O3 / NOx panel
ax3 = fig.add_axes([0.0782, 0.0481, 0.8556, 0.2662])
tw3 = ax3.twinx()
draw(ax3, o3_daily, '#FF6600', 1.3)
draw(ax3, o3_mxp, '#3366FF', 1.3)
draw(tw3, nox_daily, '#339966', 1.3)
draw(ax3, o3_smooth, '#FF6600', 3.4)
style_x(ax3)
style_left(ax3, 120, 20)
style_right(tw3, 160, 20)
ax3.set_ylabel('O$_3$ (µg/m³)', fontsize=LABEL)
ax3.yaxis.set_label_coords(-0.055, 0.476)
tw3.set_ylabel('NO$_X$ (µg/m³)', fontsize=16.5)
tw3.yaxis.set_label_coords(1.048, 0.41)
box(tw3, ['O3-49c', 'O3-MXP', 'NOx-42c'], ['#FF6600', '#3366FF', '#339966'], 0.674, 0.986)

for ax in (ax1, ax2, ax3):
    style_x(ax)

fig.savefig('out.png', dpi=100)
